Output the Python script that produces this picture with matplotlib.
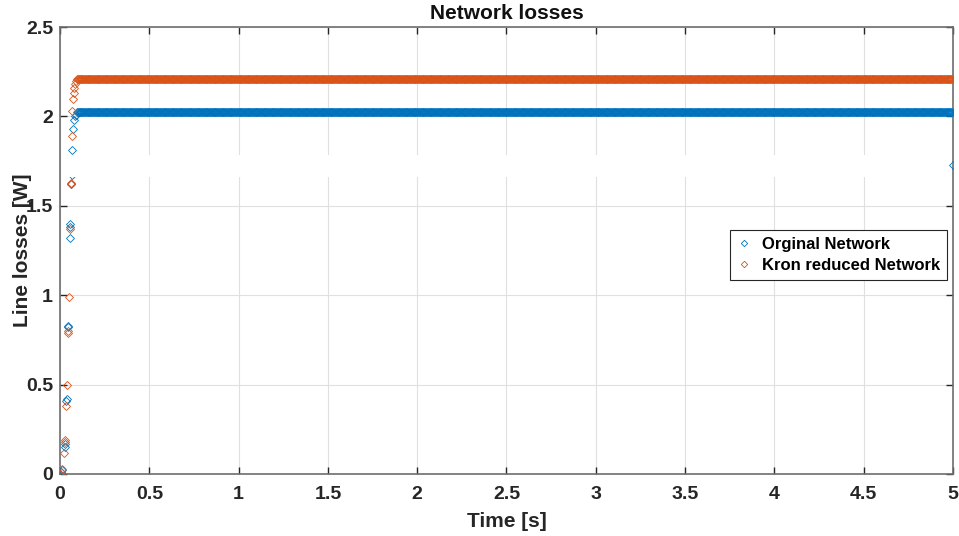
import numpy as np
import matplotlib
matplotlib.use("Agg")
import matplotlib.pyplot as plt

plt.rcParams['font.family'] = ['Liberation Sans', 'DejaVu Sans']
plt.rcParams['font.weight'] = 'bold'

# ---- data ----
title = "Network losses"
xlabel = "Time [s]"
ylabel = "Line losses [W]"
series_names = ["Orginal Network", "Kron reduced Network"]

# transient samples (time [s], losses [W])
t_orig_transient = [0.0, 0.005, 0.010, 0.027, 0.029, 0.036, 0.038, 0.045, 0.047,
                    0.055, 0.056, 0.058, 0.064, 0.066, 0.065, 0.073, 0.080, 0.085, 0.090]
y_orig_transient = [0.0, 0.01, 0.02, 0.15, 0.17, 0.41, 0.42, 0.82, 0.83,
                    1.32, 1.38, 1.40, 1.62, 1.67, 1.81, 1.93, 1.98, 2.00, 2.01]
t_kron_transient = [0.0, 0.005, 0.010, 0.025, 0.027, 0.029, 0.035, 0.040, 0.045, 0.047,
                    0.050, 0.056, 0.062, 0.063, 0.066, 0.069, 0.073, 0.077, 0.080, 0.084, 0.088]
y_kron_transient = [0.0, 0.01, 0.03, 0.12, 0.18, 0.19, 0.38, 0.50, 0.79, 0.80,
                    0.99, 1.37, 1.62, 1.63, 1.89, 2.03, 2.10, 2.13, 2.16, 2.18, 2.20]

steady_orig = 2.022
steady_kron = 2.207
t_last = 5.0
y_orig_last = 1.73

t_steady = np.arange(0.095, 4.9951, 0.005)

xticks = [0, 0.5, 1, 1.5, 2, 2.5, 3, 3.5, 4, 4.5, 5]
yticks = [0, 0.5, 1, 1.5, 2, 2.5]

blue = '#0072BD'
orange = '#D95319'

t_orig = np.concatenate([t_orig_transient, t_steady, [t_last]])
y_orig = np.concatenate([y_orig_transient, np.full(len(t_steady), steady_orig), [y_orig_last]])
t_kron = np.concatenate([t_kron_transient, t_steady])
y_kron = np.concatenate([y_kron_transient, np.full(len(t_steady), steady_kron)])

fig = plt.figure(figsize=(9.59, 5.36), dpi=100)
ax = fig.add_axes([0.0626, 0.1157, 0.9311, 0.8339])

ax.plot(t_orig, y_orig, linestyle='none', marker='D', ms=3.6, mfc='none', mec=blue,
        mew=0.6, label=series_names[0], zorder=3)
ax.plot(t_kron, y_kron, linestyle='none', marker='D', ms=3.6, mfc='none', mec=orange,
        mew=0.6, label=series_names[1], zorder=3)

# white rendering band seen in the original
ax.axhspan(1.661, 1.784, xmin=0.004, xmax=0.996, color='white', zorder=3.5, lw=0)

ax.set_xlim(0, 5)
ax.set_ylim(0, 2.5)
ax.set_xticks(xticks)
ax.set_yticks(yticks)
ax.set_xticklabels([f"{v:g}" for v in xticks])
ax.set_yticklabels([f"{v:g}" for v in yticks])
ax.grid(True, color='#e0e0e0', lw=0.8, zorder=0)
ax.set_axisbelow(True)
ax.tick_params(direction='in', length=5, width=1, top=True, right=True,
               labelsize=14, colors='#262626')
ax.tick_params(axis='x', pad=9)
ax.tick_params(axis='y', pad=5)
for lab in ax.get_xticklabels() + ax.get_yticklabels():
    lab.set_fontweight('bold')
for s in ax.spines.values():
    s.set_color('#6e6e6e')
    s.set_linewidth(1.2)

ax.set_title(title, fontsize=15, fontweight='bold', pad=6, color='#111111')
ax.set_xlabel(xlabel, fontsize=15, fontweight='bold', color='#262626')
ax.xaxis.set_label_coords(0.5, -0.085)
ax.set_ylabel(ylabel, fontsize=15, fontweight='bold', color='#262626')
ax.yaxis.set_label_coords(-0.031, 0.5)

leg = ax.legend(loc='upper right', bbox_to_anchor=(0.993, 0.546), fontsize=12,
                frameon=True, fancybox=False, edgecolor='#262626', framealpha=1,
                handlelength=0.9, handletextpad=0.6, borderpad=0.4, labelspacing=0.4,
                borderaxespad=0, markerscale=0.9)
leg.get_frame().set_linewidth(0.8)
for txt in leg.get_texts():
    txt.set_fontweight('bold')

fig.savefig('out.png', dpi=100)
